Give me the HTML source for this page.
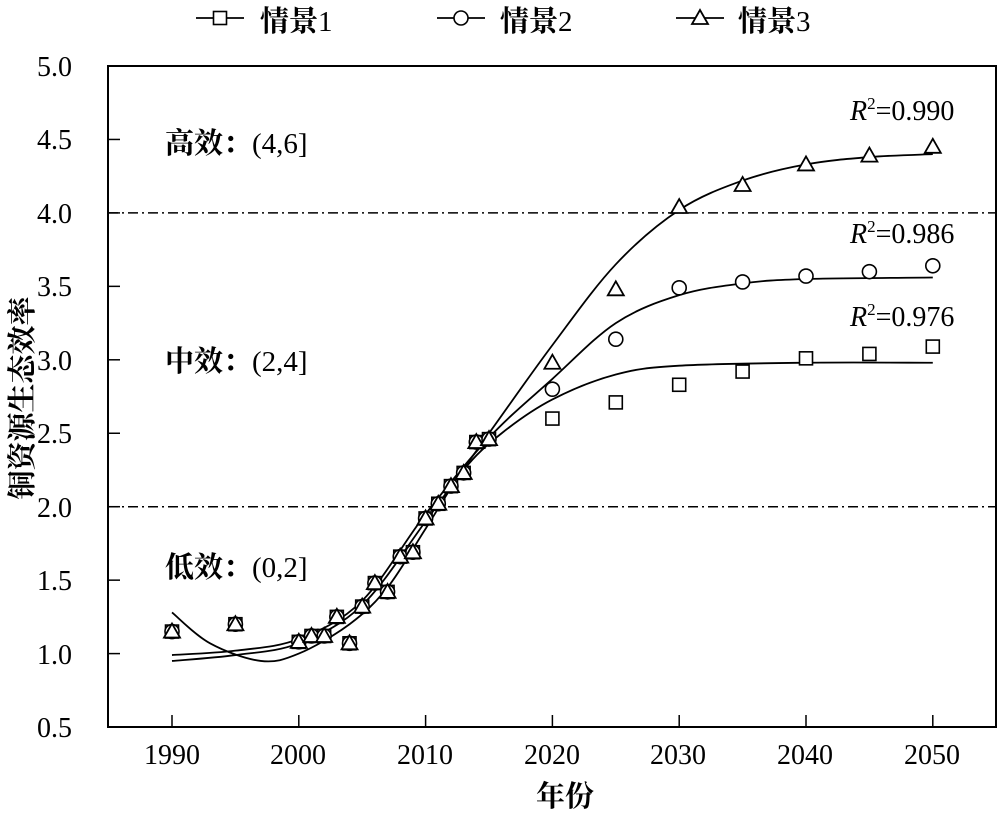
<!DOCTYPE html>
<html><head><meta charset="utf-8"><style>
body{margin:0;background:#fff;}
svg text{font-family:"Liberation Serif","Noto Serif CJK SC","Noto Sans CJK SC",serif;fill:#000;}
.b{font-weight:bold;}
</style></head><body>
<svg id="s" width="1000" height="814" xmlns="http://www.w3.org/2000/svg">
<g id="g" fill="none" stroke="#000"></g>
<g font-size="28">
<text x="72" y="76" text-anchor="end">5.0</text>
<text x="72" y="149" text-anchor="end">4.5</text>
<text x="72" y="223" text-anchor="end">4.0</text>
<text x="72" y="296" text-anchor="end">3.5</text>
<text x="72" y="370" text-anchor="end">3.0</text>
<text x="72" y="443" text-anchor="end">2.5</text>
<text x="72" y="517" text-anchor="end">2.0</text>
<text x="72" y="590" text-anchor="end">1.5</text>
<text x="72" y="664" text-anchor="end">1.0</text>
<text x="72" y="737" text-anchor="end">0.5</text>
<text x="172" y="764" text-anchor="middle">1990</text>
<text x="298" y="764" text-anchor="middle">2000</text>
<text x="425" y="764" text-anchor="middle">2010</text>
<text x="552" y="764" text-anchor="middle">2020</text>
<text x="678" y="764" text-anchor="middle">2030</text>
<text x="805" y="764" text-anchor="middle">2040</text>
<text x="932" y="764" text-anchor="middle">2050</text>
<text x="565" y="806" text-anchor="middle" font-size="29" class="b">年份</text>
<text transform="translate(32,398) rotate(-90)" text-anchor="middle" font-size="29" class="b">铜资源生态效率</text>
<text x="165" y="153" font-size="29"><tspan class="b">高效：</tspan>(4,6]</text>
<text x="165" y="371" font-size="29"><tspan class="b">中效：</tspan>(2,4]</text>
<text x="165" y="577" font-size="29"><tspan class="b">低效：</tspan>(0,2]</text>
<text x="850" y="120"><tspan font-style="italic">R</tspan><tspan font-size="17" dy="-11">2</tspan><tspan dy="11">=0.990</tspan></text>
<text x="850" y="243"><tspan font-style="italic">R</tspan><tspan font-size="17" dy="-11">2</tspan><tspan dy="11">=0.986</tspan></text>
<text x="850" y="326"><tspan font-style="italic">R</tspan><tspan font-size="17" dy="-11">2</tspan><tspan dy="11">=0.976</tspan></text>
<text x="260" y="31" font-size="29"><tspan class="b">情景</tspan>1</text>
<text x="500" y="31" font-size="29"><tspan class="b">情景</tspan>2</text>
<text x="738" y="31" font-size="29"><tspan class="b">情景</tspan>3</text>
</g>
</svg>
<script>
var g=document.getElementById('g'),h='';
function X(t){return 172+(t-1990)*12.68}
function Y(v){return 66+(5-v)*146.9}
h+='<rect x="108" y="66" width="888" height="661" stroke-width="2"/>';
for(var v=0.5;v<=5.01;v+=0.5)h+='<line x1="108" x2="120" y1="'+Y(v)+'" y2="'+Y(v)+'" stroke-width="1.5"/>';
for(var t=1990;t<=2050;t+=10)h+='<line x1="'+X(t)+'" x2="'+X(t)+'" y1="727" y2="715" stroke-width="1.5"/>';
[4,2].forEach(function(v){h+='<line x1="108" x2="996" y1="'+Y(v)+'" y2="'+Y(v)+'" stroke-width="1.5" stroke-dasharray="10,4,2,4"/>'});
function spl(P){var d='M'+X(P[0][0])+','+Y(P[0][1]);
for(var i=0;i<P.length-1;i++){var p0=P[Math.max(0,i-1)],p1=P[i],p2=P[i+1],p3=P[Math.min(P.length-1,i+2)];
var a=[X(p0[0]),Y(p0[1])],b=[X(p1[0]),Y(p1[1])],c=[X(p2[0]),Y(p2[1])],e=[X(p3[0]),Y(p3[1])];
d+='C'+(b[0]+(c[0]-a[0])/6)+','+(b[1]+(c[1]-a[1])/6)+' '+(c[0]-(e[0]-b[0])/6)+','+(c[1]-(e[1]-b[1])/6)+' '+c[0]+','+c[1];}
return '<path d="'+d+'" stroke-width="1.8"/>';}
h+=spl([[1990,0.95],[1995,0.99],[2000,1.07],[2005,1.33],[2010,1.9],[2015,2.5],[2020,3.1],[2025,3.65],[2030,4.02],[2035,4.22],[2040,4.33],[2045,4.38],[2050,4.4]]);
h+=spl([[1990,0.99],[1995,1.02],[2000,1.1],[2005,1.36],[2010,1.95],[2015,2.47],[2020,2.87],[2025,3.25],[2030,3.44],[2035,3.52],[2040,3.55],[2050,3.56]]);
h+=spl([[1990,1.28],[1993,1.07],[1997,0.95],[2000,1.0],[2004,1.2],[2007,1.45],[2010,1.85],[2013,2.25],[2016,2.5],[2020,2.73],[2025,2.9],[2030,2.96],[2040,2.98],[2050,2.98]]);
var early=[[1990,1.15],[1995,1.2],[2000,1.08],[2001,1.12],[2002,1.12],[2003,1.25],[2004,1.07],[2005,1.32],[2006,1.48],[2007,1.42],[2008,1.66],[2009,1.69],[2010,1.92],[2011,2.02],[2012,2.14],[2013,2.23],[2014,2.44],[2015,2.46]];
var yrs=[2020,2025,2030,2035,2040,2045,2050];
var s1=[2.60,2.71,2.83,2.92,3.01,3.04,3.09],s2=[2.80,3.14,3.49,3.53,3.57,3.60,3.64],s3=[2.98,3.48,4.04,4.19,4.33,4.39,4.45];
function sq(x,y){return '<rect x="'+(x-6.5)+'" y="'+(y-6.5)+'" width="13" height="13" fill="#fff" stroke-width="1.6"/>'}
function ci(x,y){return '<circle cx="'+x+'" cy="'+y+'" r="7" fill="#fff" stroke-width="1.6"/>'}
function tr(x,y){return '<path d="M'+x+','+(y-8)+'L'+(x+8)+','+(y+6)+'L'+(x-8)+','+(y+6)+'Z" fill="#fff" stroke-width="1.8"/>'}
early.forEach(function(p){h+=sq(X(p[0]),Y(p[1]))+ci(X(p[0]),Y(p[1]))+tr(X(p[0]),Y(p[1]))});
yrs.forEach(function(t,i){h+=sq(X(t),Y(s1[i]))+ci(X(t),Y(s2[i]))+tr(X(t),Y(s3[i]))});
h+='<line x1="196" x2="244" y1="18" y2="18" stroke-width="1.8"/>'+sq(220,18);
h+='<line x1="437" x2="485" y1="18" y2="18" stroke-width="1.8"/>'+ci(461,18);
h+='<line x1="676" x2="724" y1="18" y2="18" stroke-width="1.8"/>'+tr(700,18);
g.innerHTML=h;
</script>
</body></html>
